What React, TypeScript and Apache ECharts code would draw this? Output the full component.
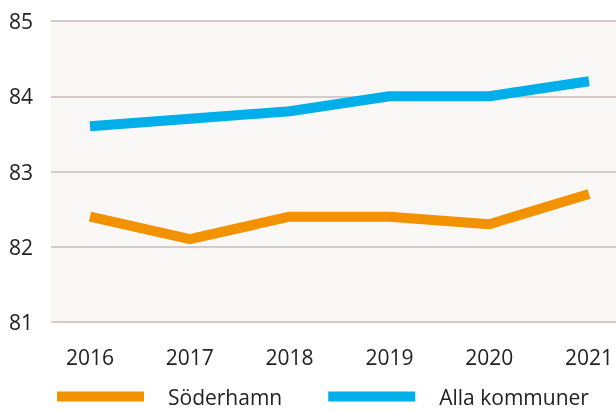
import React, { useEffect, useRef } from "react";
import * as echarts from "echarts";

const years = ["2016", "2017", "2018", "2019", "2020", "2021"];
const soderhamn = [82.4, 82.1, 82.4, 82.4, 82.3, 82.7];
const allaKommuner = [83.6, 83.7, 83.8, 84.0, 84.0, 84.2];
const seriesNames = ["Söderhamn", "Alla kommuner"];

export default function App() {
  const ref = useRef<HTMLDivElement>(null);
  useEffect(() => {
    if (!ref.current) return;
    const chart = echarts.init(ref.current, null, { renderer: "svg" });
    const font = "'Open Sans', 'Noto Sans', sans-serif";
    chart.setOption({
      animation: false,
      textStyle: { fontFamily: font },
      grid: [
        { left: 51, right: 0, top: 21, bottom: 88, show: true, backgroundColor: "#f9f8f7", borderWidth: 0 },
        { left: 90, right: 26, top: 21, bottom: 88 },
      ],
      xAxis: [
        { gridIndex: 0, type: "value", show: false, min: 0, max: 1 },
        {
          gridIndex: 1,
          type: "category",
          data: years,
          boundaryGap: false,
          axisLine: { show: false },
          axisTick: { show: false },
          axisLabel: { color: "#222", fontSize: 21, fontFamily: font, margin: 24 },
        },
      ],
      yAxis: [
        {
          gridIndex: 0,
          type: "value",
          min: 81,
          max: 85,
          interval: 1,
          axisLine: { show: false },
          axisTick: { show: false },
          axisLabel: { color: "#222", fontSize: 21, fontFamily: font, margin: 18 },
          splitLine: { lineStyle: { color: "#c8bcb8", width: 1.5 } },
        },
        { gridIndex: 1, type: "value", min: 81, max: 85, show: false, splitLine: { show: false } },
      ],
      legend: {
        top: 386,
        left: 57,
        padding: 0,
        icon: "rect",
        itemWidth: 87,
        itemHeight: 10,
        itemGap: 46,
        data: seriesNames,
        textStyle: { color: "#222", fontSize: 21, lineHeight: 20, fontFamily: font, padding: [0, 0, 0, 19] },
      },
      series: [
        {
          name: seriesNames[0],
          type: "line",
          xAxisIndex: 1,
          yAxisIndex: 1,
          data: soderhamn,
          symbol: "none",
          color: "#f39200",
          lineStyle: { width: 10, color: "#f39200", cap: "butt", join: "round" },
        },
        {
          name: seriesNames[1],
          type: "line",
          xAxisIndex: 1,
          yAxisIndex: 1,
          data: allaKommuner,
          symbol: "none",
          color: "#00aeea",
          lineStyle: { width: 10, color: "#00aeea", cap: "butt", join: "round" },
        },
      ],
    });
    return () => chart.dispose();
  }, []);
  return <div ref={ref} style={{ position: "fixed", left: 0, top: 0, width: 616, height: 410 }} />;
}
